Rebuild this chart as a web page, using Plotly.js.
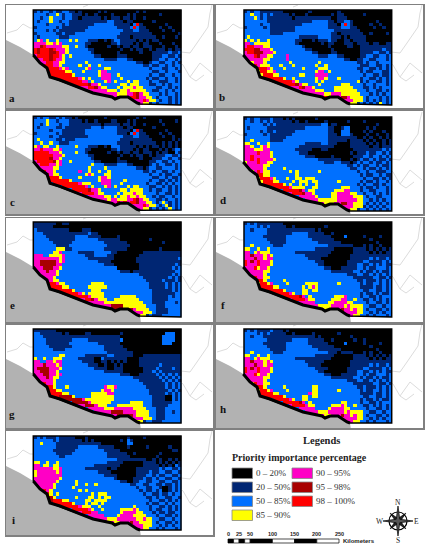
<!DOCTYPE html>
<html><head><meta charset="utf-8">
<script src="https://cdn.plot.ly/plotly-3.0.1.min.js"></script>
<style>html,body{margin:0;padding:0;background:#fff}#c{width:429px;height:550px}</style>
</head><body><div id="c"></div>
<script>
// 0 black, 1 navy, 2 blue, 3 yellow, 4 magenta, 5 dark red, 6 red
const gridA=[
"1212212112211010000010100000000010100000000000",
"2222122321221110100100001000010100000001000000",
"2212232221221101111110101110110100100000000000",
"2122232212211111111111122111011000000100000000",
"2222122221211111111222222111110261000000010000",
"1222222121111111122222222211112621100001001000",
"2222121211111111222222222222111221110000100100",
"1222222112111222222222222221111111111000000001",
"2122222211122222222222222211110111111100100010",
"2342322322232322211100101221111101010110000000",
"4444334342222222110000001121111010110001000100",
"4456444443322322100000010010110110111000100010",
"6566656444322222211000000001001011001011101011",
"6566655644322222221000000010000001000111112112",
"4666656643232222222110000011100000000111221121",
"4446656443222222222222111122211000000112212212",
"2444664433222222322222222222222211001221122121",
"2236664432222232232232222222222222112112212122",
"2223666643422222342222332222222222221222112212",
"2222366666332223222234422222222222222112212221",
"2222266666663222222234442232222222221221122122",
"2222226666666643232224442223222222212112212212",
"2222222226666664423222342322232332221221112212",
"2222222222226666654432222223323332221122121222",
"2222222222222244466543322232333433222211221212",
"2222222222222222244444433323343333322112212122",
"2222222222222222222444444433344654332221212212",
"2222222222222222222222244454446654433212221212",
"2222222222222222222222222222244444643321221212",
"2222222222222222222222222222222244331212221212"];
const gridB=[
"1212211111110000000010000000010000000000000000",
"2232212121111101000100000001011000000100000000",
"2223212111111110111111111110011100000000000000",
"2222222111111111111112222211011221000000010000",
"2222212211111111112222222211102621000001001000",
"1222221211111111222222222211112221100000100100",
"2222222211111111222222222222111111110000000000",
"2222222211112222222222222221101111111001000010",
"2322222222222222211111122221110101111100000000",
"3232322322222222110001011121100110111100000000",
"4423333322222222100000001011000111011110110011",
"4664443322222222221000000010000011001111111111",
"6665544432222222222110000001000000001111111211",
"4665554443222222222221100001100000001111221121",
"4446544332222422222222211122211000001122112212",
"2444443322222422222222222222222110011221122212",
"2234443222222232222222232222222222211212212222",
"2236433322232223222222322322222222221112211212",
"2223666432223222223222233322222222211221121212",
"2222366334222222222222344232222222221211222112",
"2222236663322222233222444422222222222122112112",
"2222226666663223222222344322232222221221121212",
"2222222226666664322222323222222222231212211212",
"2222222222226666543322232222223332222122122212",
"2222222222222244465443222222333333222112121222",
"2222222222222222244444333222333333322212211212",
"2222222222222222222444444334443333332221212122",
"2222222222222222222222344654445543333212221212",
"2222222222222222222222222222254444333212121212",
"2222222222222222222222222222222243312121213212"];
const gridC=[
"1212211212110100000000100000000010100000000000",
"2222322122211110100100001100010100000001000010",
"2212322212211111111110111110110100100000100000",
"2122222112111111112221222211011000000100000000",
"2222212221111111222222222211110261000000010000",
"1222222121111111222222222211102621100001001000",
"2222212211111111122222222222111221110000100100",
"2322222112111222222222222221111111111000000101",
"2232232211122222222222222211110111111100101010",
"3423322322222322211100102221111101010110101010",
"4464443342222222110000001121111010110001010122",
"6666644432222322100000010010110110111010110021",
"6666664443222222211000000001001011001011122112",
"6666654432222222221000000010000001000111221221",
"4666665342232222222110000011100000001122112122",
"4466644342222222223222111122211000001212211212",
"2444443322222222232222322222222211012211222212",
"2236443222222242232232232222222222112122112122",
"2223643322222222343222332222222222221221211221",
"2222366632222232222234432222222222222112212112",
"2222266666632222222234442222322222221221121212",
"2222226666666643332224442223222222212211212122",
"2222222226666666423222342322232332221122121212",
"2222222222226666654432222223323333221211221212",
"2222222222222246666433222232333433222212211212",
"2222222222222222244444332323343343322121122122",
"2222222222222222222444434433344654332211212212",
"2222222222222222222222244454646654433212321212",
"2222222222222222222222222222244444643321231212",
"2222222222222222222222222222222244331212123212"];
const gridD=[
"1212211121110101000000100000000000000000000000",
"2212212121111110100100000100000010000100000000",
"2222221212111111111111112201100000000000010000",
"2122222111111111111222222211001220000010100000",
"2222212112111111222222222211002220000101000100",
"1222221211111112222222222211102221000010010010",
"2222222211111222222222222211111111100101001010",
"2232222211112222222222222211111101111010100101",
"3322322322222222222111112211100001111101010101",
"4432234322222222211111111111000001111110110111",
"4443334422222222111110001100000000111111111212",
"4444644432222222211100000000000001011121122121",
"4464444432222222222111000001000000111221221212",
"4464644443222222222222211111110001012112121121",
"3444644332222222222222222111221110121221211212",
"4444443322222222222222222222222211212112212112",
"2444443222223222222222222222222221122121121212",
"2234643322222232322222232222222222212212211122",
"2223663322222222322222222222222222221211221211",
"2222366643222322332333222222222222222122112121",
"2222236663322223233323322222232222221211212212",
"2222226666663232232322322222222222212122112122",
"2222222226666643333223322222223332221211212212",
"2222222222226666654233222222333442221221122212",
"2222222222222246665443222223344443322122121212",
"2222222222222222244444322223344444333212211222",
"2222222222222222222444433333344444433221212122",
"2222222222222222222222344333445544333212121212",
"2222222222222222222222222222234444333121212122",
"2222222222222222222222222222222243312212121212"];
const gridE=[
"1111111001100000000000000000000000000000000000",
"1111110000000000000000000000000000000000000000",
"2111111111100001110000000000000000000000000000",
"2221111111111111121100000000000000000000000000",
"2222111111111222211110000010000000000000000000",
"2222211111111222222211111110000000001000000000",
"2222221111112222222222111111100000000000100000",
"2222222111122222222222211111110000000000000000",
"2222222333112222222222111111100000000001000000",
"2222223342222211111222221100000000111111111111",
"4442233334222222111222211000000001111111111111",
"4444444434222222211111111000000011111111111112",
"4455555434222222222211110000000011111111111111",
"4455555442222222222222111000000001111111111121",
"4445554432222222222222222200000001111111111212",
"4444544322222222222222222221110111111111111122",
"2444444322222222222222222222222221111111111212",
"2234443222222222222222222222222222111111112121",
"2223443322222222222222222222222222211111211121",
"2222366433222222223333222222222222221111121212",
"2222266663322222233333322222222222221111121212",
"2222226666663222223332222222222222222111111212",
"2222222226666643233333222222222222222111111122",
"2222222222226666643333222223333322222111112122",
"2222222222222244665433322333333332222111112222",
"2222222222222222244444333333333333222111122212",
"2222222222222222222444445555333333322211122222",
"2222222222222222222222344555555433332211112222",
"2222222222222222222222222222254444333211112222",
"2222222222222222222222222222222443312111222222"];
const gridF=[
"1212111111110000000000000000000000000000000000",
"2222121211111001000000000100000000000000000000",
"2212222111111111111111010000000000000000000000",
"2222222111111112222211111001000000000000000000",
"2222221111111222222211111110000200000100001000",
"2222222111111222222221111111000000000001000000",
"2222222211111222222222211111110000000000010000",
"2232222221112222222222222211111111000101001000",
"3322322322222222222222111111000000111101010101",
"4423433322222222111111111110000000111110101011",
"4454443432222222222111111100000001111111111111",
"4445443442222222222211110000000001111112121121",
"6454644432222222222222111000000011111221111212",
"6444644432222222222222211000000011122112121211",
"4446344322222222222222222110001111122121122212",
"4444443322222222222222222221111111221211212112",
"2444443222222222222222222222222211122112121212",
"2236443322222222222222222222222222111111221121",
"2223663222223222222222222222222222211211121212",
"2222366342222322222333322222232222221211221212",
"2222266663322222223234322222222222221111211212",
"2222226666663222223323322222222222222112211212",
"2222222226666643223322222222222222221211212112",
"2222222222226666654232222222333422221221121222",
"2222222222222246666433222223334422322112121212",
"2222222222222222244444222233444433222212211212",
"2222222222222222222444433334444343333221122122",
"2222222222222222222222344334445443433212211212",
"2222222222222222222222222222244444433221212122",
"2222222222222222222222222222222244332212122212"];
const gridG=[
"1111111000000000000000000000000000000000000000",
"2211111110100000110000000001000000000000022200",
"2221111111111111111111111110000000000000222200",
"2222111111112222211111111112000000000000222200",
"2222111111122222222211111110000000000000222000",
"2222211111112222222222111111000000000000000000",
"2222221111222222222222111111100000000000000000",
"2222222222222222222222211111111000000000000000",
"2222222233222222111111122111111000111111111111",
"3223223332222211111002111111100001111111111111",
"4422443442222221111001101010100001111111111111",
"4445444342222222211100100101000001111112111111",
"4555544432222222222111100111000000111121111211",
"4455544322222222222222111111000000111212111111",
"4445544342222222222222222221110001111121212121",
"4444543322222222222222222222222111111112121212",
"2444443222222222222222222222222221111111212121",
"2236443222222222222222222222222222111111121212",
"2223663222322222222222433422222222211111121212",
"2222366332222222222223443222222222221111112121",
"2222266663322222223333344222222222221111121212",
"2222226655553222223333333222222222222111100212",
"2222222225555554333333333222222222222111100212",
"2222222222225555543333332222223333222111111222",
"2222222222222244555433322233333333222111112222",
"2222222222222222244444333444444333322211122222",
"2222222222222222222444445555444433332211122122",
"2222222222222222222222344455555433332211122222",
"2222222222222222222222222222254444333211122222",
"2222222222222222222222222222222433122111222222"];
const gridH=[
"1212111121110100000000000000000000000000000000",
"2222121211111001000001000000010000000000000000",
"2212221111111111111111010000000001000000000000",
"2222222111111112222211111001000000100100000000",
"2222221111111222222211111100000200000100001000",
"2222222111111222222221111111000000000001000000",
"2222222211111222222222211111110000000000010000",
"2232222221112222222222222211101111000101001000",
"3322322322222222222222111111000000111101010101",
"4423433322222222111111111110000000111110101011",
"4454443432222222222111111000000001111111111111",
"4445443442222222222211110000000001111112121121",
"6454644432222222222222111100000011111221111212",
"6444644432222222222222211000000011122112121211",
"4446344322222222222222222110001111122121122212",
"4444443322222222222222222221111111221211212112",
"2444443222222222222222222222222211122112121212",
"2236443322222222222222222222222222111111221121",
"2223663222223222222223322222222222211211121212",
"2222366342222322222223322222232222221211221212",
"2222266663322222222243322222222222221111211212",
"2222226666663222223323322222222222222112211212",
"2222222226666643223322222222222222221211212112",
"2222222222226666654232222222223322221221121222",
"2222222222222246666433222223334322322112121212",
"2222222222222222244444222234444332222212211212",
"2222222222222222222444433344444343333221122122",
"2222222222222222222222344334445443433212211212",
"2222222222222222222222222222244444433221212122",
"2222222222222222222222222222222244332212122212"];
const gridI=[
"1212111211111000100000000000010000100000000000",
"2222221211111110101000000001021000000000000000",
"2232222111111111111110000000022000000000000000",
"2222222111111122222211111000010000010000001000",
"2222221111111222222222111110000000000000000110",
"2222222111112222222222211111100100000001000000",
"2222222211222222222222211111110000000010000000",
"2222222222222222222222222211111111100101001010",
"3322322322222222222222211111000000111101010101",
"4423323322222222222111111110000000111110101021",
"4444443342222222111111101100000011111112122112",
"3444444342222222222211110000000011112112211221",
"3444444442222222222222111100000011122121122112",
"4444444432222222222222222100000111211212211221",
"4444444322222322222222222221100112211221122112",
"4444443222222322322322222222221122112211211212",
"2444443222223222222222222222222212211221001212",
"2236432222222232322222222222222221211212001212",
"2223632322222222223233322222222222122112112122",
"2222353222222322233232332222222222211212211221",
"2222256663322222332333322222222222221221121212",
"2222226666663222323323222222222222212112212122",
"2222222226666643332232222222222322221221121212",
"2222222222226666643223222223333432221211221212",
"2222222222222246664422222223444433222121121122",
"2222222222222222244444222234444333322212211212",
"2222222222222222222444433344444433433221122122",
"2222222222222222222222344334445443333212211212",
"2222222222222222222222222222244444333221212122",
"2222222222222222222222222222222244332212122212"];
const panelGrids=[gridA,gridB,gridC,gridD,gridE,gridF,gridG,gridH,gridI];
const panelLetters=["a","b","c","d","e","f","g","h","i"];
const classColors=["#000000","#002673","#0070ff","#ffff00","#ff00c5","#a80000","#ff0000"];
const classLabels=["0 \u2013 20%","20 \u2013 50%","50 \u2013 85%","85 \u2013 90%","90 \u2013 95%","95 \u2013 98%","98 \u2013 100%"];
const scaleTicks=[0,25,50,100,150,200,250];
const scaleBreaks=[0,12.5,25,37.5,50,100,150,200,250];
const seaX=[0,6,14,27.3,34,41,44,54,71,87,106,109,114,122,131,134,135,0];
const seaY=[35,38,42,50,58,63,72,75,82,88,92,94,92,92,98,99,106,106];
const borderA=[[1,28],[11,25],[17,19],[24,23],[27.3,23]];
const borderB=[[77,2],[82,0]];
const borderC=[[175,47],[184,48],[191,38],[202,22],[204,8],[206,0]];
const borderD=[[175,58],[177,60],[184,72],[194,58],[206,68]];
const borderE=[[184,72],[190,76],[198,70]];

const W=429,H=550;
const colL=[6,216], colR=[213,423];
const rowT=[5,111,218,325,431], rowB=[108,214,322,428,535];
const mapTop=[10,10,116.3,117,222,222,329,329,436];
const mapBot=[105,105,210,211,317,317,423,423,530];
const letterPos=[[6,93],[6,92],[6,91],[7,89],[6,87],[7,87],[6,89],[7,84],[7,89]];
const traces=[],layout={width:W,height:H,margin:{l:0,r:0,t:0,b:0},paper_bgcolor:"#fff",plot_bgcolor:"#fff",showlegend:false,font:{family:"Liberation Serif"},annotations:[],shapes:[]};
const serif="Liberation Serif";
const px=x=>x/W, py=y=>1-y/H;
const scale=classColors.flatMap((c,i)=>[[i/7,c],[(i+1)/7,c]]);
panelGrids.forEach((g,i)=>{
  const col=i%2,row=Math.floor(i/2),id=i?String(i+1):"";
  const L=colL[col],R=colR[col],T=rowT[row],B=rowB[row];
  const ax={showgrid:false,zeroline:false,showticklabels:false,ticks:"",showline:true,mirror:true,linecolor:"#808080",linewidth:1.5,fixedrange:true};
  layout["xaxis"+id]=Object.assign({},ax,{domain:[px(L),px(R)],range:[0,R-L],anchor:"y"+id});
  layout["yaxis"+id]=Object.assign({},ax,{domain:[py(B),py(T)],range:[B-T,0],anchor:"x"+id});
  const dy=mapTop[i]-T-5, mx=col?28:27.3, mw=147.7, mh=mapBot[i]-mapTop[i];
  const z=g.map(r=>r.padEnd(46,r[r.length-1]).slice(0,46).split("").map(Number));
  const t={xaxis:"x"+id,yaxis:"y"+id,hoverinfo:"skip",showlegend:false};
  [borderA,borderB,borderC,borderD,borderE].forEach(b=>traces.push(Object.assign({type:"scatter",mode:"lines",x:b.map(p=>p[0]),y:b.map(p=>p[1]+dy),line:{color:"#dcdcdc",width:1}},t)));
  traces.push(Object.assign({type:"heatmap",z:z,zmin:0,zmax:7,colorscale:scale,showscale:false,x0:mx+mw/92,dx:mw/46,y0:mapTop[i]-T+mh/60,dy:mh/30,zsmooth:false},t));
  traces.push(Object.assign({type:"scatter",mode:"lines",x:seaX,y:seaY.map(v=>v+dy),fill:"toself",fillcolor:"#b2b2b2",line:{color:"#b2b2b2",width:0}},t));
  const cx=seaX.slice(3,16), cy=seaY.slice(3,16).map(v=>v+dy);
  traces.push(Object.assign({type:"scatter",mode:"lines",x:[mx,mx,mx+mw,mx+mw,...cx.slice().reverse()],y:[cy[0],mapTop[i]-T,mapTop[i]-T,mapBot[i]-T,...cy.slice().reverse()],line:{color:"#000",width:1.5}},t));
  traces.push(Object.assign({type:"scatter",mode:"lines",x:cx,y:cy,line:{color:"#000",width:3}},t));
  layout.annotations.push({xref:"x"+id,yref:"y"+id,x:letterPos[i][0],y:letterPos[i][1],text:"<b>"+panelLetters[i]+"</b>",showarrow:false,font:{family:serif,size:11,color:"#111"}});
});
function txt(x,y,s,size,anchor,fam,color){layout.annotations.push({xref:"paper",yref:"paper",x:px(x),y:py(y),text:s,showarrow:false,xanchor:anchor||"left",yanchor:"middle",font:{family:fam||serif,size:size,color:color||"#222"}});}
txt(321,440,"<b>Legends</b>",10.5,"center");
txt(230,457,"<b>Priority importance percentage</b>",10,"left");
const order=[[232,468],[232,482],[232,496],[232,510],[292,468],[292,482],[292,496]];
classColors.forEach((c,i)=>{
  const [x,y]=order[i];
  layout.shapes.push({type:"rect",xref:"paper",yref:"paper",x0:px(x),x1:px(x+20.5),y0:py(y),y1:py(y+10.5),fillcolor:c,line:{color:"#888",width:0.8}});
  txt(x+22,y+5.3,classLabels[i],9,"left",serif,"#333");
});
const km=v=>228+v*0.444;
scaleTicks.forEach(v=>txt(km(v),534,"<b>"+v+"</b>",5.5,"center","Liberation Sans","#222"));
scaleBreaks.slice(0,-1).forEach((v,i)=>layout.shapes.push({type:"rect",xref:"paper",yref:"paper",x0:px(km(v)),x1:px(km(scaleBreaks[i+1])),y0:py(539),y1:py(543),fillcolor:i%2?"#fff":"#000",line:{color:"#000",width:0.7}}));
txt(341,541,"<b>Kilometers</b>",6,"left","Liberation Sans","#222");
const ccx=398,ccy=521;
function star(rot,ro,ri,fill){let d="";for(let k=0;k<8;k++){const r=k%2?ri:ro,a=rot+k*Math.PI/4;d+=(k?"L":"M")+px(ccx+r*Math.sin(a))+","+py(ccy-r*Math.cos(a));}layout.shapes.push({type:"path",xref:"paper",yref:"paper",path:d+"Z",fillcolor:fill,line:{color:"#000",width:0.7}});}
layout.shapes.push({type:"circle",xref:"paper",yref:"paper",x0:px(ccx-9),x1:px(ccx+9),y0:py(ccy-9),y1:py(ccy+9),line:{color:"#000",width:1.2},fillcolor:"rgba(0,0,0,0)"});
star(Math.PI/4,11,2.5,"#222");
star(0,15,2.5,"#555");
[["N",398,502],["S",398,540],["W",380,521],["E",416,521]].forEach(a=>txt(a[1],a[2],a[0],7.5,"center",serif,"#222"));
Plotly.newPlot("c",traces,layout,{staticPlot:true,displayModeBar:false});
</script></body></html>
